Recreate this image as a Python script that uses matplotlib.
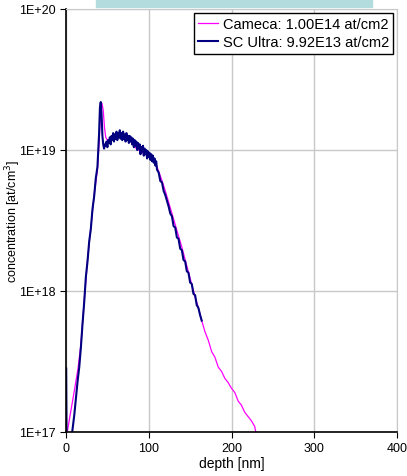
import matplotlib.pyplot as plt
from matplotlib.patches import Rectangle

plt.rcParams['font.family'] = ['Liberation Sans', 'DejaVu Sans']

# Cameca profile (depth nm, log10 concentration)
cameca_depth = [1.5, 5, 10, 14.5, 18, 22, 26, 30, 34, 38, 40, 42, 43.5, 45, 46.5,
                48, 50, 55, 60, 65, 70, 75, 80, 85, 90, 95, 100, 105, 110, 115,
                120, 125, 130, 135, 140, 145, 150, 155, 160, 164, 168, 172, 176,
                180, 184, 188, 192, 196, 200, 204, 208, 212, 216, 220, 224, 228, 230]
cameca_log = [17.0, 17.12, 17.29, 17.45, 17.62, 17.93, 18.22, 18.45, 18.68, 18.86,
              19.05, 19.28, 19.33, 19.28, 19.16, 19.09, 19.07, 19.08, 19.10, 19.10,
              19.09, 19.07, 19.05, 19.01, 18.99, 18.97, 18.96, 18.94, 18.88, 18.80,
              18.71, 18.61, 18.51, 18.41, 18.31, 18.20, 18.09, 17.98, 17.88, 17.79,
              17.71, 17.65, 17.57, 17.53, 17.46, 17.43, 17.38, 17.35, 17.31, 17.28,
              17.22, 17.19, 17.14, 17.11, 17.08, 17.04, 16.98]

# SC Ultra profile (depth nm, log10 concentration)
ultra_depth = [0.2, 1, 7.5, 10, 12, 14, 16, 18, 20, 22, 24, 26, 28, 30, 32, 34, 36,
               38, 40, 41, 42, 43, 44, 45,
               46, 47, 48, 49, 50, 51, 52, 53, 54, 55, 56, 57, 58, 59, 60, 61, 62,
               63, 64, 65, 66, 67, 68, 69, 70, 71, 72, 73, 74, 75, 76, 77, 78, 79,
               80, 81, 82, 83, 84, 85, 86, 87, 88, 89, 90, 91, 92, 93, 94, 95, 96,
               97, 98, 99, 100, 101, 102, 103, 104, 105, 106, 107, 108, 109, 110,
               112, 114, 116, 118, 120, 122, 124, 126, 128, 130, 132, 134, 136, 138,
               140, 142, 144, 146, 148, 150, 152, 154, 156, 158, 160, 162, 164]
ultra_log = [17.45, 16.7, 17.0, 17.12, 17.24, 17.36, 17.46, 17.60, 17.77, 17.92,
             18.10, 18.21, 18.35, 18.44, 18.58, 18.67, 18.80, 18.88, 19.12, 19.30,
             19.34, 19.25, 19.10, 19.04,
             19.01, 19.04, 19.03, 19.06, 19.02, 19.07, 19.05, 19.09, 19.04, 19.10,
             19.07, 19.12, 19.06, 19.11, 19.08, 19.13, 19.07, 19.12, 19.09, 19.14,
             19.08, 19.12, 19.07, 19.13, 19.08, 19.11, 19.06, 19.12, 19.07, 19.10,
             19.05, 19.10, 19.06, 19.09, 19.04, 19.08, 19.02, 19.07, 19.03, 19.06,
             19.00, 19.05, 19.01, 19.04, 18.97, 19.02, 18.99, 19.03, 18.96, 19.01,
             18.97, 19.00, 18.94, 18.99, 18.95, 18.98, 18.93, 18.97, 18.92, 18.96,
             18.91, 18.94, 18.89, 18.92, 18.86,
             18.84, 18.78, 18.77, 18.71, 18.68, 18.64, 18.60,
             18.55, 18.53, 18.46, 18.45, 18.38, 18.37, 18.30, 18.29, 18.22, 18.21,
             18.14, 18.13, 18.06, 18.05, 17.98, 17.97, 17.90, 17.88, 17.83, 17.79]

cameca_conc = [10 ** v for v in cameca_log]
ultra_conc = [10 ** v for v in ultra_log]

fig = plt.figure(figsize=(4.07, 4.77), dpi=100)
fig.patches.append(Rectangle((96 / 407, 1 - 8 / 477), 276 / 407, 8 / 477,
                             transform=fig.transFigure, color='#b3dcdf', zorder=0))
ax = fig.add_axes([66 / 407, 1 - 433 / 477, 331 / 407, 423 / 477])

ax.plot(cameca_depth, cameca_conc, color='#ff00ff', lw=0.9,
        label='Cameca: 1.00E14 at/cm2')
ax.plot(ultra_depth, ultra_conc, color='#000080', lw=1.5,
        label='SC Ultra: 9.92E13 at/cm2')

ax.set_yscale('log')
ax.set_xlim(0, 400)
ax.set_ylim(1e17, 1e20)
ax.set_xticks([0, 100, 200, 300, 400])
ax.set_yticks([1e17, 1e18, 1e19, 1e20])
ax.set_yticklabels(['1E+17', '1E+18', '1E+19', '1E+20'])
ax.minorticks_off()
ax.grid(True, color='#c8c8c8', lw=1)
ax.tick_params(labelsize=9, length=4, direction='out', color='black')
for s in ['top', 'right']:
    ax.spines[s].set_color('#c8c8c8')
for s in ['left', 'bottom']:
    ax.spines[s].set_linewidth(1.2)

ax.set_xlabel('depth [nm]', fontsize=10, labelpad=1)
ax.set_ylabel('concentration [at/cm$^3$]', fontsize=9)
ax.yaxis.set_label_coords(-0.13, 0.5)

leg = ax.legend(loc='upper right', fontsize=10.5, fancybox=False, framealpha=1,
                edgecolor='black', handlelength=1.4, borderpad=0.3,
                labelspacing=0.3, handletextpad=0.3, borderaxespad=0.25)
leg.get_frame().set_linewidth(1)

fig.savefig('out.png', dpi=100)
